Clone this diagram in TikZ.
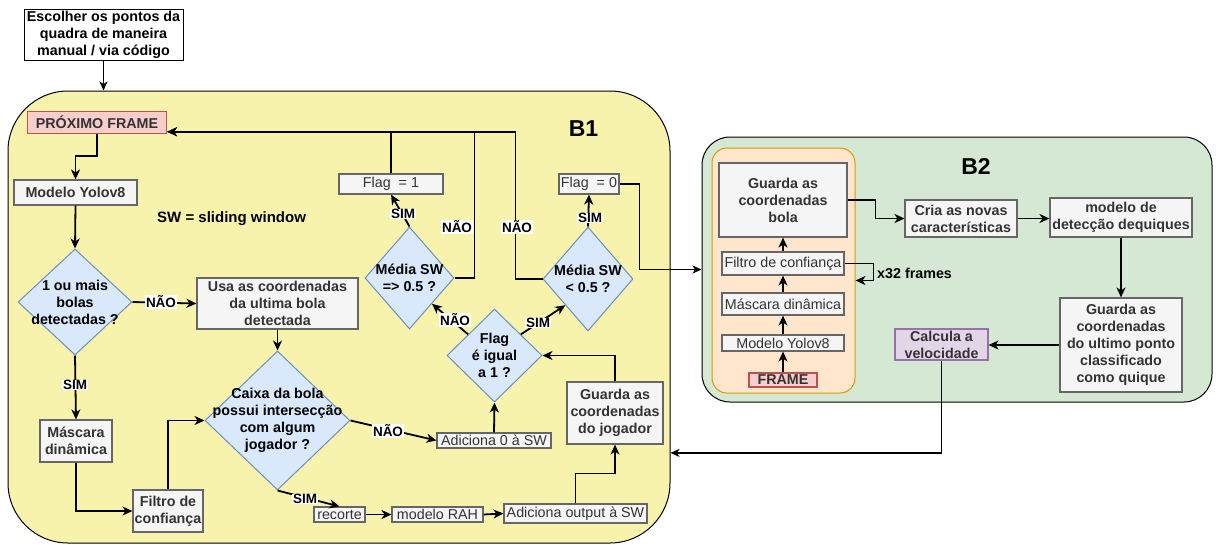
\documentclass[tikz,border=0pt]{standalone}
\usepackage{fontspec}
\setmainfont{Liberation Sans}
\usetikzlibrary{shapes.geometric,arrows.meta,calc}

\definecolor{yelfill}{RGB}{248,243,172}
\definecolor{grnfill}{HTML}{D5E8D4}
\definecolor{orgfill}{HTML}{FFE6CC}
\definecolor{orgline}{HTML}{D79B00}
\definecolor{redfill}{HTML}{F8CECC}
\definecolor{redline}{HTML}{B85450}
\definecolor{bluefill}{HTML}{DAE8FC}
\definecolor{blueline}{HTML}{6C8EBF}
\definecolor{grayfill}{HTML}{F5F5F5}
\definecolor{grayline}{HTML}{666666}
\definecolor{graytext}{HTML}{333333}
\definecolor{purfill}{HTML}{E1D5E7}
\definecolor{purline}{HTML}{9673A6}

\tikzset{
  sz/.style 2 args={minimum width=#1, minimum height=#2},
  base/.style={font=\fontsize{14.3}{17}\selectfont\bfseries, align=center, inner sep=0pt},
  graybox/.style={base, draw=grayline, fill=grayfill, text=graytext, line width=1.1pt},
  plainbox/.style={graybox, font=\fontsize{14.3}{17}\selectfont},
  redbox/.style={base, draw=redline, fill=redfill, text=graytext, line width=1.1pt},
  purbox/.style={base, draw=purline, fill=purfill, text=graytext, line width=1.1pt},
  dia/.style={diamond, draw=blueline, fill=bluefill, line width=1pt, inner sep=0pt},
  diatext/.style={base},
  lbl/.style={font=\fontsize{13.5}{15}\selectfont\bfseries, fill=white, inner sep=0.6pt},
  arr/.style={line width=1.8pt, -{Stealth[length=10pt,width=9pt,inset=3pt]}},
  link/.style={line width=1.8pt},
  thinarr/.style={line width=1.3pt, -{Stealth[length=9pt,width=8pt,inset=2.5pt]}},
}

\begin{document}
\begin{tikzpicture}[x=1pt, y=-1pt]
\useasboundingbox (0,0) rectangle (1219,544);

% ---- panels ----
\node[draw=black, line width=1pt, fill=yelfill, rounded corners=60pt, sz={662}{452}] (b1) at (339,317) {};
\node[draw=black, line width=1pt, fill=grnfill, rounded corners=28pt, sz={510}{265}] (b2) at (957,269.5) {};
\node[draw=orgline, line width=1pt, fill=orgfill, rounded corners=15pt, sz={143}{245}] (orng) at (783.5,270.5) {};

\node[base, font=\fontsize{23}{26}\selectfont\bfseries] (b1t) at (583.5,129) {B1};
\node[base, font=\fontsize{23}{26}\selectfont\bfseries] (b2t) at (976,166) {B2};

% ---- start box ----
\node[base, draw=black, fill=white, line width=1pt, sz={159}{51}] (esc) at (103.5,34.5)
  {Escolher os pontos da\\quadra de maneira\\manual / via código};

% ---- B1 nodes ----
\node[redbox, sz={139}{22}] (prox) at (97,122.5) {PRÓXIMO FRAME};
\node[graybox, sz={123}{25}] (yolo) at (75.5,192.5) {Modelo Yolov8};
\node[base, font=\fontsize{15}{17}\selectfont\bfseries, anchor=base west] (swt) at (157,222) {SW = sliding window};

\node[dia, sz={114}{106}] (d1) at (75,302) {};
\node[diatext] (d1t) at (d1) {1 ou mais\\bolas\\detectadas ?};

\node[graybox, sz={161}{51}] (usa) at (277.5,303.5) {Usa as coordenadas\\da ultima bola\\detectada};
\node[graybox, sz={72}{42}] (masc) at (76,441) {Máscara\\dinâmica};
\node[graybox, sz={70}{42}] (filt) at (168,511) {Filtro de\\confiança};

\node[dia, sz={145}{139}] (dcx) at (277.5,420.5) {};
\node[diatext] (dcxt) at (dcx) {Caixa da bola\\possui intersecção\\com algum\\jogador ?};

\node[plainbox, sz={51}{15}] (rec) at (339.5,514.5) {recorte};
\node[plainbox, sz={91}{15}] (rah) at (437.5,514.5) {modelo RAH};
\node[plainbox, sz={143}{19}] (addo) at (575.5,513.5) {Adiciona output à SW};
\node[graybox, sz={96}{62}] (gj) at (615,413) {Guarda as\\coordenadas\\do jogador};
\node[plainbox, sz={114}{15}] (add0) at (494,440.5) {Adiciona 0 à SW};

\node[dia, sz={95}{93}] (dflag) at (494.5,355.5) {};
\node[diatext] (dflagt) at (dflag) {Flag\\é igual\\a 1 ?};

\node[dia, sz={89}{102}] (dm1) at (409.5,278) {};
\node[diatext] (dm1t) at (dm1) {Média SW\\=> 0.5 ?};
\node[dia, sz={90}{104}] (dm2) at (588,279) {};
\node[diatext] (dm2t) at (dm2) {Média SW\\< 0.5 ?};

\node[plainbox, sz={104}{20}] (f1) at (391,184) {Flag~~= 1};
\node[plainbox, sz={60}{20}] (f0) at (589,184) {Flag~~= 0};

% ---- B2 nodes ----
\node[graybox, sz={128}{74}] (gb) at (783,200) {Guarda as\\coordenadas\\bola};
\node[plainbox, sz={122}{23}] (ifil) at (783,263.5) {Filtro de confiança};
\node[plainbox, sz={122}{22}] (imas) at (783,304) {Máscara dinâmica};
\node[plainbox, sz={122}{16}] (iyol) at (783,343) {Modelo Yolov8};
\node[redbox, sz={68}{14}] (frame) at (783,380) {FRAME};
\node[graybox, sz={112}{37}] (cria) at (961,218.5) {Cria as novas\\características};
\node[graybox, sz={142}{39}] (mdq) at (1121,217.5) {modelo de\\detecção dequiques};
\node[graybox, sz={122}{94}] (gu) at (1121,345) {Guarda as\\coordenadas\\do ultimo ponto\\classificado\\como quique};
\node[purbox, sz={93}{31}] (calc) at (941.5,344.5) {Calcula a\\velocidade};
\node[base, anchor=base west] (x32) at (877,278) {x32 frames};

% ---- connectors: entry and feedback loop ----
\draw[thinarr] (esc.south) -- (esc.south |- b1.north);
\coordinate (pin) at ($(prox.east)!0.8!(prox.south east)$);
\draw[link] (f1.north) -- (f1.north |- pin);
\draw[arr] (dm1.east) -- ++(20,0) |- (pin);
\draw[arr] (dm2.west) -- ++(-27,0) |- (pin);
\draw[arr] (dm1.north) -- (f1.south);
\draw[arr] (dm2.north) -- (f0.south);
\draw[thinarr] (f0.east) -- ++(20,0) |- (b2.west);
\draw[arr] ($(dflag.north)!0.55!(dflag.west)$) -- ($(dm1.south)!0.5!(dm1.east)$);
\draw[arr] ($(dflag.north)!0.55!(dflag.east)$) -- ($(dm2.south)!0.5!(dm2.west)$);
\draw[arr] (add0.north) -- (dflag.south);
\draw[arr] (dcx.east) -- (add0.west);
\draw[arr] (dcx.south) -- (rec.north);
\draw[arr] (rec.east) -- (rah.west);
\draw[arr] (rah.east) -- (addo.west);
\draw[arr] (addo.north) -- ++(0,-30) -| (gj.south);
\draw[arr] (gj.north) |- (dflag.east);
\draw[thinarr] (calc.south) |- ($(b1.north east)!0.8!(b1.south east)$);

% ---- connectors: detection path ----
\draw[arr] (prox.south) -- ++(0,22) -| (yolo.north);
\draw[arr] (yolo.south) -- (d1.north);
\draw[arr] (d1.east) -- (usa.west);
\draw[arr] (d1.south) -- (masc.north);
\draw[arr] (masc.south) |- (filt.west);
\draw[arr] (filt.north) |- (dcx.west);
\draw[arr] (usa.south) -- (dcx.north);

% ---- connectors: B2 ----
\draw[arr] (frame.north) -- (iyol.south);
\draw[arr] (iyol.north) -- (imas.south);
\draw[arr] (imas.north) -- (ifil.south);
\draw[arr] (ifil.north) -- (gb.south);
\draw[arr] (ifil.east) -- ++(29,0) |- ($(orng.east)+(0,10)$);
\draw[arr] (gb.east) -- ++(28,0) |- (cria.west);
\draw[arr] (cria.east) -- (cria.east -| mdq.west);
\draw[arr] (mdq.south) -- (gu.north);
\draw[arr] (gu.west) -- (gu.west -| calc.east);

% ---- edge labels ----
\node[lbl] (n1) at (457,227) {NÃO};
\node[lbl] (n2) at (517,227) {NÃO};
\node[lbl] (s1) at (403,214) {SIM};
\node[lbl] (s2) at (590,218) {SIM};
\node[lbl] (n3) at (455,320) {NÃO};
\node[lbl] (s3) at (538,323) {SIM};
\node[lbl] (n4) at (388,431) {NÃO};
\node[lbl] (s4) at (305,499) {SIM};
\node[lbl] (n5) at (161,302) {NÃO};
\node[lbl] (s5) at (75,385) {SIM};
\end{tikzpicture}
\end{document}
